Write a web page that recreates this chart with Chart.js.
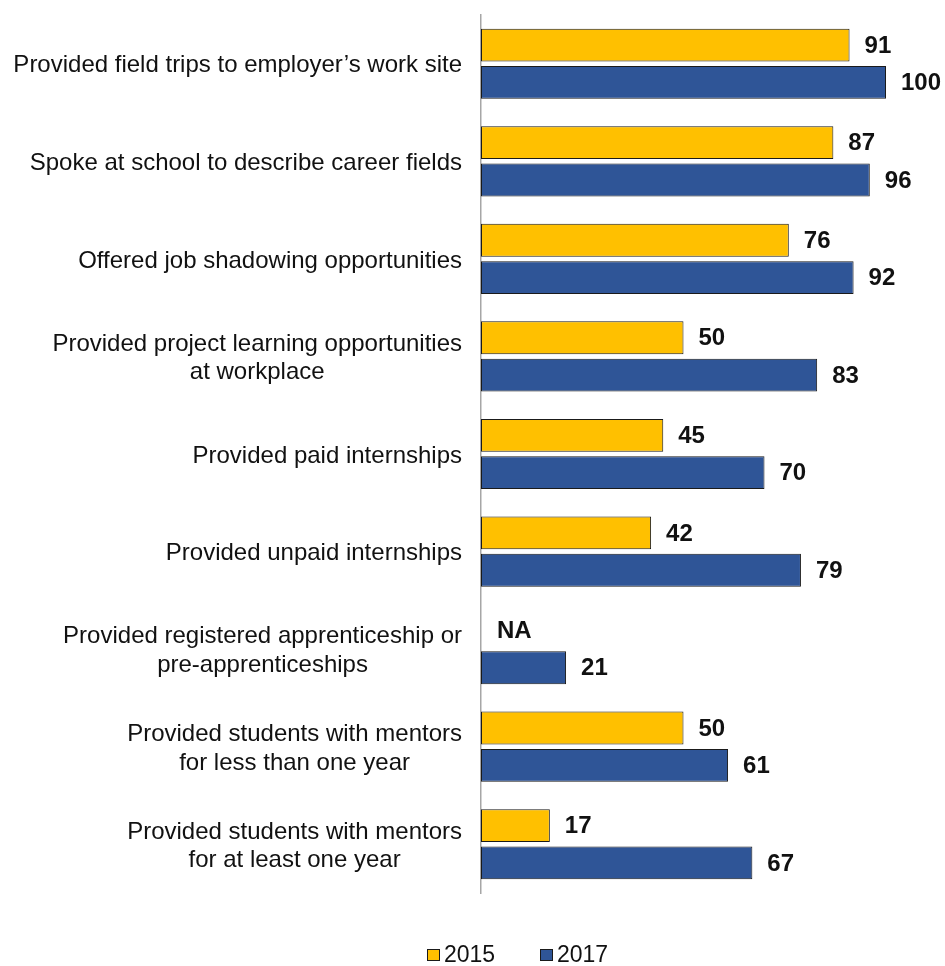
<!DOCTYPE html>
<html>
<head>
<meta charset="utf-8">
<script src="https://cdn.jsdelivr.net/npm/chart.js@4.4.1/dist/chart.umd.min.js"></script>
<style>
  html, body { margin: 0; padding: 0; background: #fff; }
  #wrap { position: relative; width: 945px; height: 966px; }
  #legend { position: absolute; left: 0; top: 943px; width: 945px; height: 23px;
    font: 23px "Liberation Sans", Arial, sans-serif; color: #111; }
  .item { position: absolute; top: 0; display: flex; align-items: center; height: 23px; }
  .box { width: 13px; height: 12px; border: 1px solid #1a1a1a; box-sizing: border-box; margin-right: 4px; }
</style>
</head>
<body>
<div id="wrap">
  <canvas id="c" width="945" height="966"></canvas>
  <div id="legend"></div>
</div>
<script>
const categories = [
  ["Provided field trips to employer’s work site"],
  ["Spoke at school to describe career fields"],
  ["Offered job shadowing opportunities"],
  ["Provided project learning opportunities", "at workplace"],
  ["Provided paid internships"],
  ["Provided unpaid internships"],
  ["Provided registered apprenticeship or", "pre-apprenticeships"],
  ["Provided students with mentors", "for less than one year"],
  ["Provided students with mentors", "for at least one year"]
];
const seriesNames = ["2015", "2017"];
const values2015 = [91, 87, 76, 50, 45, 42, null, 50, 17];
const values2017 = [100, 96, 92, 83, 70, 79, 21, 61, 67];
const missingLabel = "NA";
const colors = ["#FFC000", "#2F5597"];

const FONT = '"Liberation Sans", Arial, sans-serif';

const labelPlugin = {
  id: 'labels',
  afterDatasetsDraw(chart) {
    const ctx = chart.ctx;
    const xs = chart.scales.x;
    const ys = chart.scales.y;
    ctx.save();
    // value labels
    ctx.font = 'bold 24px ' + FONT;
    ctx.fillStyle = '#111';
    ctx.textBaseline = 'middle';
    ctx.textAlign = 'left';
    chart.data.datasets.forEach((ds, di) => {
      const meta = chart.getDatasetMeta(di);
      meta.data.forEach((bar, i) => {
        const v = ds.data[i];
        if (v === null || v === undefined) {
          ctx.fillText(missingLabel, xs.getPixelForValue(0) + 16, bar.y + 1);
        } else {
          ctx.fillText(String(v), bar.x + 15, bar.y + 1);
        }
      });
    });
    // category labels
    ctx.font = '24px ' + FONT;
    ctx.fillStyle = '#111';
    ctx.textAlign = 'center';
    const right = ys.right - 19;
    const lh = 28.6;
    chart.data.labels.forEach((lines, i) => {
      const cy = ys.getPixelForValue(i) + 2;
      const w = Math.max(...lines.map(l => ctx.measureText(l).width));
      const cx = right - w / 2;
      const y0 = cy - (lines.length - 1) * lh / 2;
      lines.forEach((l, k) => ctx.fillText(l, cx, y0 + k * lh));
    });
    ctx.restore();
  }
};

new Chart(document.getElementById('c'), {
  type: 'bar',
  data: {
    labels: categories,
    datasets: [
      { label: seriesNames[0], data: values2015, backgroundColor: colors[0] },
      { label: seriesNames[1], data: values2017, backgroundColor: colors[1] }
    ]
  },
  options: {
    indexAxis: 'y',
    responsive: false,
    animation: false,
    devicePixelRatio: 1,
    layout: { padding: { top: 15, right: 59, bottom: 73, left: 0 } },
    datasets: {
      bar: {
        categoryPercentage: 0.765,
        barPercentage: 0.88,
        borderWidth: 1,
        borderColor: '#1a1a1a',
        borderSkipped: false
      }
    },
    scales: {
      x: { display: false, min: 0, max: 100 },
      y: {
        grid: { display: false, drawTicks: false },
        border: { display: true, color: '#a6a6a6', width: 1.5 },
        ticks: { display: false },
        afterFit(scale) { scale.width = 481; }
      }
    },
    plugins: {
      legend: { display: false },
      tooltip: { enabled: false }
    }
  },
  plugins: [labelPlugin]
});

// HTML legend
const legend = document.getElementById('legend');
const legendLeft = [427, 540];
seriesNames.forEach((name, i) => {
  const it = document.createElement('div');
  it.className = 'item';
  it.style.left = legendLeft[i] + 'px';
  const b = document.createElement('div');
  b.className = 'box';
  b.style.background = colors[i];
  const t = document.createElement('span');
  t.textContent = name;
  it.appendChild(b); it.appendChild(t);
  legend.appendChild(it);
});
</script>
</body>
</html>
